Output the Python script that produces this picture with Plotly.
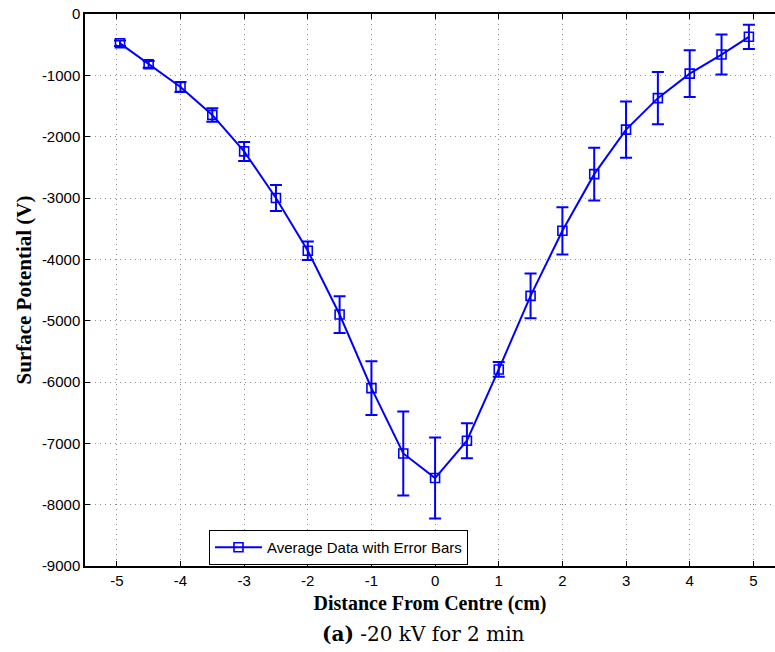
import plotly.graph_objects as go

# Data
distance_cm = [-4.95, -4.5, -4.0, -3.5, -3.0, -2.5, -2.0, -1.5, -1.0, -0.5, 0.0,
               0.5, 1.0, 1.5, 2.0, 2.5, 3.0, 3.5, 4.0, 4.5, 4.93]
potential_v = [-478, -820, -1190, -1645, -2240, -3000, -3860, -4900, -6100, -7165, -7566,
               -6957, -5795, -4595, -3535, -2611, -1885, -1372, -972, -661, -372]
error_v = [45, 55, 82, 110, 155, 210, 150, 300, 440, 685, 660,
           285, 120, 365, 385, 430, 460, 426, 383, 325, 197]

x_tick_vals = [-5, -4, -3, -2, -1, 0, 1, 2, 3, 4, 5]
x_tick_text = ["-5", "-4", "-3", "-2", "-1", "0", "1", "2", "3", "4", "5"]
y_tick_vals = [0, -1000, -2000, -3000, -4000, -5000, -6000, -7000, -8000, -9000]
y_tick_text = ["0", "-1000", "-2000", "-3000", "-4000", "-5000", "-6000", "-7000", "-8000", "-9000"]

BLUE = "#0000ff"
SANS = "Liberation Sans, Arial, sans-serif"
SERIF = "Liberation Serif, Times New Roman, serif"

fig = go.Figure()
fig.add_trace(go.Scatter(
    x=distance_cm, y=potential_v,
    mode="lines+markers",
    name="Average Data with Error Bars",
    line=dict(color=BLUE, width=2),
    marker=dict(symbol="square-open", size=9, color=BLUE, line=dict(width=1.6, color=BLUE)),
    error_y=dict(type="data", array=error_v, visible=True, color=BLUE, thickness=2, width=6),
))

axis_common = dict(
    showline=True, linecolor="black", linewidth=1.5,
    ticks="inside", ticklen=5, tickcolor="black", tickwidth=1,
    showgrid=True, gridcolor="#8c8c8c", griddash="1px,4px", gridwidth=1,
    zeroline=False,
    tickfont=dict(family=SANS, size=15, color="black"),
)

fig.update_layout(
    width=775, height=652,
    margin=dict(l=85, r=0, t=14, b=86),
    paper_bgcolor="white", plot_bgcolor="white",
    showlegend=True,
    legend=dict(
        x=(209 - 85) / 690, y=(566 - 530) / 552, xanchor="left", yanchor="top",
        bgcolor="white", bordercolor="black", borderwidth=1,
        font=dict(family=SANS, size=15, color="black"),
        itemwidth=47, tracegroupgap=0,
    ),
    xaxis=dict(
        range=[-5.5, 5.34], tickvals=x_tick_vals, ticktext=x_tick_text,
        mirror="ticks",
        title=dict(text="<b>Distance From Centre (cm)</b>", standoff=8,
                   font=dict(family=SERIF, size=20, color="black")),
        **axis_common,
    ),
    yaxis=dict(
        range=[-9000, 0], tickvals=y_tick_vals, ticktext=y_tick_text,
        mirror=False,
        title=dict(text="<b>Surface Potential (V)</b>", standoff=5,
                   font=dict(family=SERIF, size=21, color="black")),
        **axis_common,
    ),
)

fig.add_annotation(
    text="<b>(a)</b> -20 kV for 2 min",
    xref="paper", yref="paper", x=(423 - 85) / 690, y=-(634 - 566) / 552,
    xanchor="center", yanchor="middle", showarrow=False,
    font=dict(family="DejaVu Serif, serif", size=20, color="black"),
)

fig.write_html("out.html")
